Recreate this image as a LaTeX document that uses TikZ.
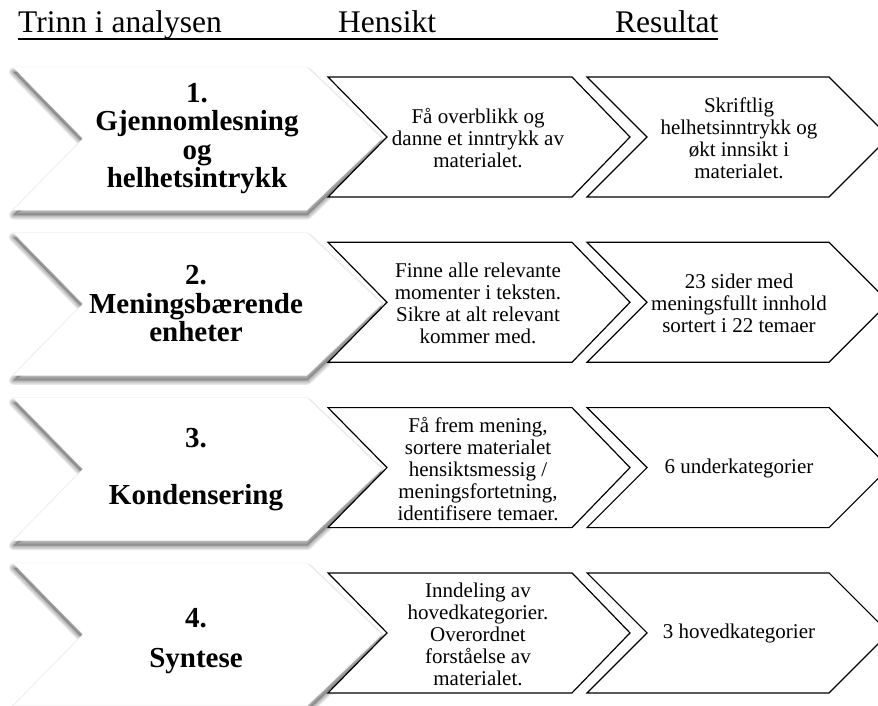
\documentclass[tikz,border=0pt]{standalone}
\usepackage{fontspec}
\setmainfont{Liberation Serif}
\begin{document}
\begin{tikzpicture}[x=1pt,y=-1pt,
  bigchev/.style={insert path={(13,67) -- (307,67) -- (382,138.5) -- (307,210) -- (13,210) -- (83,138.5) -- cycle}},
  midchev/.style={insert path={(328,77) -- (572,77) -- (630,137) -- (572,197) -- (328,197) -- (387,137) -- cycle}},
  endchev/.style={insert path={(587,77) -- (829,77) -- (889,137) -- (829,197) -- (587,197) -- (647,137) -- cycle}},
  chevline/.style={draw=black, fill=white, line width=1.2pt, line join=miter},
  steptext/.style={align=center, font=\fontsize{29}{28.5}\selectfont\bfseries, inner sep=0pt},
  bodytext/.style={align=center, font=\fontsize{21}{22}\selectfont\mdseries, inner sep=0pt},
  headtext/.style={anchor=base west, font=\fontsize{31.5}{36}\selectfont, inner sep=0pt},
]
\useasboundingbox (0,0) rectangle (878,706);
\clip (0,0) rectangle (878,706);
\fill[white] (0,0) rectangle (878,706);

% headings
\node[headtext] (h1) at (18,33) {Trinn i analysen};
\node[headtext] (h2) at (338,33) {Hensikt};
\node[headtext] (h3) at (615,33) {Resultat};
\coordinate (ul1) at (18,39);
\coordinate (ul2) at (718,39);
\draw[line width=1.3pt] (ul1) -- (ul2);

% chevrons
\foreach \r in {0,1,2,3} {
  \begin{scope}[shift={(0,{\r*165.3})}]
    \begin{scope}[shift={(0.5,5)}]
      \foreach \w in {9,6.5,4,1.5} {
        \draw[bigchev, black, line width=\w pt, draw opacity=0.09, line join=round];
      }
      \fill[bigchev, black, opacity=0.22];
    \end{scope}
    \fill[bigchev, white, draw=black!5, line width=0.5pt];
    \path[midchev, chevline];
    \path[endchev, chevline];
  \end{scope}
}

% column 1
\node[steptext] (s1) at (197,138.5) {1.\\Gjennomlesning\\og\\helhetsintrykk};
\node[steptext] (s2) at (196,303.8) {2.\\Meningsbærende\\enheter};
\node[steptext] (s3) at (196,469.1) {3.\\[28.5pt]Kondensering};
\node[steptext] (s4) at (196,641) {4.\\[11.5pt]Syntese};

% column 2
\node[bodytext] (p1) at (478,138) {Få overblikk og\\danne et inntrykk av\\materialet.};
\node[bodytext] (p2) at (478,303.3) {Finne alle relevante\\momenter i teksten.\\Sikre at alt relevant\\kommer med.};
\node[bodytext] (p3) at (478,468.6) {Få frem mening,\\sortere materialet\\hensiktsmessig /\\meningsfortetning,\\identifisere temaer.};
\node[bodytext] (p4) at (478,633.9) {Inndeling av\\hovedkategorier.\\Overordnet\\forståelse av\\materialet.};

% column 3
\node[bodytext] (o1) at (739,138) {Skriftlig\\helhetsinntrykk og\\økt innsikt i\\materialet.};
\node[bodytext] (o2) at (739,303.3) {23 sider med\\meningsfullt innhold\\sortert i 22 temaer};
\node[bodytext] (o3) at (739,468.6) {6 underkategorier};
\node[bodytext] (o4) at (739,633.9) {3 hovedkategorier};
\end{tikzpicture}
\end{document}
